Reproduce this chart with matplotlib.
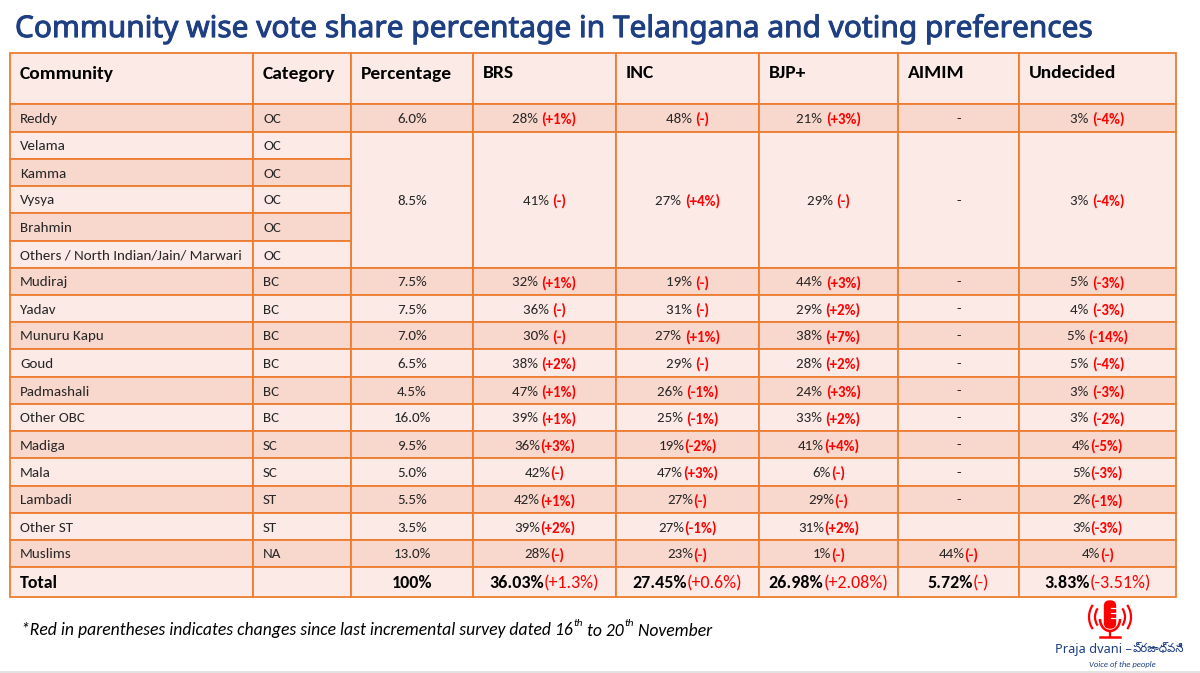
import matplotlib
matplotlib.use("Agg")
import matplotlib.pyplot as plt
import matplotlib.patheffects as pe
from matplotlib.patches import Rectangle, FancyBboxPatch, Arc

title = "Community wise vote share percentage in Telangana and voting preferences"
headers = ["Community", "Category", "Percentage", "BRS", "INC", "BJP+", "AIMIM", "Undecided"]
communities = ["Reddy", "Velama", "Kamma", "Vysya", "Brahmin", "Others / North Indian/Jain/ Marwari",
               "Mudiraj", "Yadav", "Munuru Kapu", "Goud", "Padmashali", "Other OBC", "Madiga", "Mala",
               "Lambadi", "Other ST", "Muslims"]
categories = ["OC", "OC", "OC", "OC", "OC", "OC", "BC", "BC", "BC", "BC", "BC", "BC", "SC", "SC", "ST", "ST", "NA"]
# None marks rows covered by the merged block that starts at Velama
percentage = ["6.0%", "8.5%", None, None, None, None, "7.5%", "7.5%", "7.0%", "6.5%", "4.5%", "16.0%",
              "9.5%", "5.0%", "5.5%", "3.5%", "13.0%"]
brs = ["28% (+1%)", "41% (-)", None, None, None, None, "32% (+1%)", "36% (-)", "30% (-)", "38% (+2%)",
       "47% (+1%)", "39% (+1%)", "36%(+3%)", "42%(-)", "42%(+1%)", "39%(+2%)", "28%(-)"]
inc = ["48% (-)", "27% (+4%)", None, None, None, None, "19% (-)", "31% (-)", "27% (+1%)", "29% (-)",
       "26% (-1%)", "25% (-1%)", "19%(-2%)", "47%(+3%)", "27%(-)", "27%(-1%)", "23%(-)"]
bjp = ["21% (+3%)", "29% (-)", None, None, None, None, "44% (+3%)", "29% (+2%)", "38% (+7%)", "28% (+2%)",
       "24% (+3%)", "33% (+2%)", "41%(+4%)", "6%(-)", "29%(-)", "31%(+2%)", "1%(-)"]
aimim = ["-", "-", None, None, None, None, "-", "-", "-", "-", "-", "-", "-", "-", "-", "", "44%(-)"]
undecided = ["3% (-4%)", "3% (-4%)", None, None, None, None, "5% (-3%)", "4% (-3%)", "5% (-14%)", "5% (-4%)",
             "3% (-3%)", "3% (-2%)", "4%(-5%)", "5%(-3%)", "2%(-1%)", "3%(-3%)", "4%(-)"]
total_row = ["Total", "", "100%", "36.03%(+1.3%)", "27.45%(+0.6%)", "26.98%(+2.08%)", "5.72%(-)", "3.83%(-3.51%)"]
footnote_parts = ["*Red in parentheses indicates changes since last incremental survey dated 16", "th",
                  " to 20", "th", " November"]

col_x = [10, 253, 351, 473, 616, 759, 898, 1019, 1176]
row_y = [53, 104, 132, 159, 186, 213, 241, 268, 295, 322, 349, 377, 404, 431, 458, 486, 513, 540, 567, 597]
LIGHT, DARK, ORANGE, NAVY, RED = "#FBEAE6", "#F8D7CD", "#ED7D31", "#1F3F83", "#FF0000"
BODY = "#262626"
FONT = "Carlito"
BODY_SIZE = 10.85
TOTAL_SIZE = 13

fig = plt.figure(figsize=(12, 6.73), dpi=100, facecolor="white")
ax = fig.add_axes([0, 0, 1, 1])
ax.set_xlim(0, 1200)
ax.set_ylim(673, 0)
ax.axis("off")
renderer = fig.canvas.get_renderer()


def cell(x0, y0, x1, y1, fill):
    ax.add_patch(Rectangle((x0, y0), x1 - x0, y1 - y0, facecolor=fill, edgecolor=ORANGE, linewidth=1.3, zorder=1))


def mixed(xc, yc, s, size, weight="normal", color=BODY, red_weight="bold"):
    """Centred text whose parenthesised part is red."""
    if "(" in s:
        i = s.index("(")
        a, b = s[:i], s[i:]
    else:
        a, b = s, ""
    t1 = ax.text(0, yc, a, fontsize=size, family=FONT, weight=weight, color=color, va="center_baseline", ha="left", zorder=3)
    t2 = ax.text(0, yc, b, fontsize=size, family=FONT, weight=red_weight, color=RED,
                 va="center_baseline", ha="left", zorder=3)
    w1 = t1.get_window_extent(renderer).width if a.strip() else 0
    w2 = t2.get_window_extent(renderer).width if b else 0
    left = xc - (w1 + w2) / 2
    t1.set_x(left)
    t2.set_x(left + w1)


# header
for j, h in enumerate(headers):
    cell(col_x[j], row_y[0], col_x[j + 1], row_y[1], LIGHT)
    ax.text(col_x[j] + 9.5, 72, h, fontsize=14, family=FONT, weight="bold", color="black", va="center_baseline", zorder=3)

# body
columns = [percentage, brs, inc, bjp, aimim, undecided]
for i, name in enumerate(communities):
    y0, y1 = row_y[i + 1], row_y[i + 2]
    fill = DARK if i % 2 == 0 else LIGHT
    ym = (y0 + y1) / 2
    cell(col_x[0], y0, col_x[1], y1, fill)
    cell(col_x[1], y0, col_x[2], y1, fill)
    ax.text(col_x[0] + 10, ym, name, fontsize=BODY_SIZE, family=FONT, color=BODY, va="center_baseline", zorder=3)
    ax.text(col_x[1] + 10, ym, categories[i], fontsize=BODY_SIZE, family=FONT, color=BODY, va="center_baseline", zorder=3)
    for j, col in enumerate(columns):
        val = col[i]
        if val is None:
            continue
        x0, x1 = col_x[j + 2], col_x[j + 3]
        if i == 1:  # merged block Velama .. Others
            cell(x0, row_y[2], x1, row_y[7], LIGHT)
            mixed((x0 + x1) / 2, (row_y[2] + row_y[7]) / 2, val, BODY_SIZE)
        else:
            cell(x0, y0, x1, y1, fill)
            mixed((x0 + x1) / 2, ym, val, BODY_SIZE)

# total row
for j, val in enumerate(total_row):
    x0, x1 = col_x[j], col_x[j + 1]
    cell(x0, row_y[-2], x1, row_y[-1], LIGHT)
    ym = (row_y[-2] + row_y[-1]) / 2
    if j == 0:
        ax.text(x0 + 10, ym, val, fontsize=TOTAL_SIZE, family=FONT, weight="bold", color="black", va="center_baseline", zorder=3)
    elif val:
        mixed((x0 + x1) / 2, ym, val, TOTAL_SIZE, weight="bold", color="black", red_weight="normal")

# title
ax.text(15, 26, title, fontsize=21.5, family="Noto Sans", color=NAVY, va="center_baseline", zorder=3,
        path_effects=[pe.withStroke(linewidth=0.7, foreground=NAVY)])

# footnote with superscripts
x = 21
for k, part in enumerate(footnote_parts):
    sup = part == "th"
    t = ax.text(x, 623 if sup else 629, part, fontsize=8 if sup else 12.7, family=FONT, style="italic",
                color="black", va="center_baseline", zorder=3)
    x += t.get_window_extent(renderer).width + 0.5

# logo
ax.add_patch(FancyBboxPatch((1104.5, 601), 11, 27, boxstyle="round,pad=0,rounding_size=5", facecolor=RED, edgecolor=RED, lw=1, zorder=3))
for sy in [608, 613, 618]:
    ax.plot([1111, 1116], [sy, sy], color="white", lw=0.9, zorder=4)
ax.add_patch(Arc((1110, 619), 20, 24, theta1=0, theta2=180, edgecolor=RED, lw=1.8, zorder=3))
ax.plot([1110, 1110], [631, 637], color=RED, lw=1.6, zorder=3)
ax.plot([1100, 1120], [637, 637], color=RED, lw=1.8, zorder=3)
for radius in [15, 21]:
    ax.add_patch(Arc((1110, 617), 2 * radius, 2 * radius, theta1=145, theta2=215, edgecolor=RED, lw=1.6, zorder=3))
    ax.add_patch(Arc((1110, 617), 2 * radius, 2 * radius, theta1=-35, theta2=35, edgecolor=RED, lw=1.6, zorder=3))
ax.text(1055, 648, "Praja dvani –", fontsize=9.2, family="Noto Sans", color=NAVY, va="center_baseline", zorder=3)
ax.text(1133, 648, "ప్రజాధ్వని", fontsize=8.4, family="Noto Sans Telugu", color=NAVY, va="center_baseline", zorder=3)
ax.text(1089, 664, "Voice of the people", fontsize=6.2, family=FONT, style="italic", color=NAVY, va="center_baseline", zorder=3)
ax.plot([0, 1200], [671.5, 671.5], color="#DDDDDD", lw=1.2, zorder=2)

fig.savefig("out.png", dpi=100)
